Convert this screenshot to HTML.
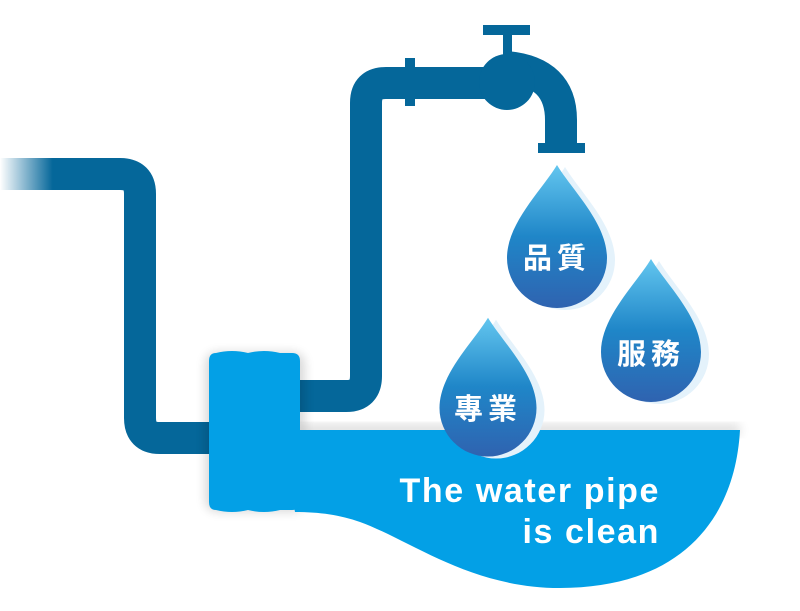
<!DOCTYPE html>
<html><head><meta charset="utf-8"><style>
html,body{margin:0;padding:0;background:#fff;width:800px;height:611px;overflow:hidden}
svg{display:block}
text{font-family:"Liberation Sans","Noto Sans CJK TC",sans-serif;fill:#fff;font-weight:bold}
</style></head><body>
<svg width="800" height="611" viewBox="0 0 800 611" xmlns="http://www.w3.org/2000/svg">
<defs>
<linearGradient id="fade" x1="0" x2="1" y1="0" y2="0">
<stop offset="0" stop-color="#05679a" stop-opacity="0"/><stop offset="0.85" stop-color="#05679a" stop-opacity="1"/></linearGradient>
<linearGradient id="drop" x1="0" x2="0" y1="0" y2="1">
<stop offset="0" stop-color="#63c6ef"/><stop offset="0.5" stop-color="#1f86c8"/><stop offset="1" stop-color="#2f63b0"/></linearGradient>
<filter id="sh" x="-20%" y="-20%" width="140%" height="140%"><feGaussianBlur stdDeviation="5"/></filter>
<path id="d" d="M0,-93 C15,-68 50,-35 50,0 A50,50 0 0 1 -50,0 C-50,-35 -15,-68 0,-93 Z"/>
</defs>
<rect x="0" y="158" width="62" height="32" fill="url(#fade)"/>
<path d="M58,174 H120 Q140,174 140,194 V418 Q140,438 160,438 H215" fill="none" stroke="#05679a" stroke-width="32"/>
<path d="M295,396 H346 Q366,396 366,376 V103 Q366,83 386,83 H500" fill="none" stroke="#05679a" stroke-width="32"/>
<rect x="405" y="58" width="10" height="48" fill="#05679a"/>
<path d="M507,67 Q561,72 561,120 V146" fill="none" stroke="#05679a" stroke-width="32"/>
<rect x="538" y="143" width="47" height="10" fill="#05679a"/>
<circle cx="507" cy="82" r="28" fill="#05679a"/>
<rect x="503" y="34" width="9" height="22" fill="#05679a"/>
<rect x="483" y="25" width="47" height="10" fill="#05679a"/>
<rect x="300" y="424" width="440" height="12" fill="#000" opacity="0.12" filter="url(#sh)"/>
<rect x="205" y="352" width="100" height="160" rx="12" fill="#000" opacity="0.15" filter="url(#sh)"/>
<path d="M280,430 H740 C735,520 680,588 560,588 C470,588 410,540 360,522 C340,515 320,512 295,512 Z" fill="#03a0e6"/>
<path d="M216,353 Q232,349 248,353 Q264,349 280,353 L292,353 Q300,353 300,361 V502 Q300,510 292,510 L280,510 Q264,514 248,510 Q232,514 216,510 Q209,510 209,502 V361 Q209,353 216,353 Z" fill="#03a0e6"/>
<g transform="translate(565,260)"><use href="#d" fill="#e4f2fb"/></g>
<g transform="translate(557,258)"><use href="#d" fill="url(#drop)"/></g>
<text x="557" y="268" font-size="29" text-anchor="middle" letter-spacing="5" font-weight="normal">品質</text>
<g transform="translate(659,354)"><use href="#d" fill="#e4f2fb"/></g>
<g transform="translate(651,352)"><use href="#d" fill="url(#drop)"/></g>
<text x="651" y="364" font-size="29" text-anchor="middle" letter-spacing="5" font-weight="normal">服務</text>
<g transform="translate(496,410) scale(0.97)"><use href="#d" fill="#e4f2fb"/></g>
<g transform="translate(488,408) scale(0.97)"><use href="#d" fill="url(#drop)"/></g>
<text x="488" y="419" font-size="29" text-anchor="middle" letter-spacing="5" font-weight="normal">專業</text>
<text x="660" y="502" font-size="34" text-anchor="end" letter-spacing="1.6">The water pipe</text>
<text x="660" y="543" font-size="34" text-anchor="end" letter-spacing="1.6">is clean</text>
</svg>
</body></html>
